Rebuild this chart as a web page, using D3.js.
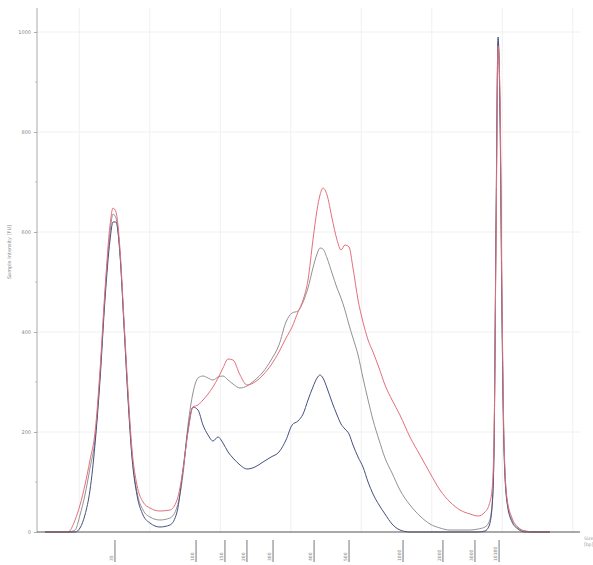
<!DOCTYPE html>
<html>
<head>
<meta charset="utf-8">
<script src="https://cdn.jsdelivr.net/npm/d3@7"></script>
<style>
  html, body { margin: 0; padding: 0; background: #fff; }
  svg { display: block; }
</style>
</head>
<body>
<svg id="chart" width="593" height="565"></svg>
<script>
// ---- data (migration time in seconds, intensity in FU) ----
const time = [17.57, 18.63, 19.20, 19.70, 20.05, 20.40, 20.76, 21.11, 21.47, 21.82, 22.18, 22.39, 22.60, 22.89, 23.17, 23.45, 23.74, 24.09, 24.52, 25.01, 25.72, 26.43, 26.93, 27.35, 27.71, 28.06, 28.42, 28.77, 29.13, 29.48, 29.84, 30.19, 30.55, 30.90, 31.40, 31.89, 32.46, 33.03, 33.60, 34.16, 34.66, 35.09, 35.51, 35.87, 36.22, 36.57, 36.86, 37.07, 37.28, 37.57, 37.92, 38.28, 38.56, 38.84, 39.13, 39.41, 39.77, 40.12, 40.48, 40.83, 41.26, 41.68, 42.18, 42.74, 43.45, 44.16, 44.87, 45.58, 46.29, 47.00, 47.71, 48.28, 48.77, 49.06, 49.27, 49.41, 49.55, 49.70, 49.84, 49.98, 50.12, 50.33, 50.69, 51.11, 51.61, 52.32, 53.38];

const sampleRed = [0, 0, 0, 24, 54, 94, 144, 198, 324, 484, 614, 648, 640, 564, 424, 284, 164, 94, 60, 48, 42, 44, 64, 124, 200, 250, 254, 264, 276, 290, 308, 328, 346, 344, 314, 294, 300, 314, 334, 360, 388, 410, 440, 464, 504, 584, 644, 674, 688, 674, 628, 584, 564, 574, 570, 528, 464, 420, 384, 360, 328, 294, 264, 234, 190, 154, 118, 84, 60, 44, 36, 32, 40, 54, 84, 184, 564, 972, 864, 464, 184, 68, 28, 10, 2, 0, 0];

const sampleGray = [0, 0, 0, 4, 34, 74, 128, 184, 314, 474, 600, 636, 628, 554, 414, 274, 154, 80, 44, 30, 24, 28, 50, 114, 214, 278, 308, 312, 308, 304, 310, 312, 304, 296, 288, 292, 304, 320, 344, 374, 420, 438, 442, 460, 488, 528, 556, 568, 566, 548, 518, 488, 468, 444, 414, 388, 354, 308, 264, 224, 184, 148, 118, 84, 54, 32, 16, 8, 4, 4, 4, 6, 10, 20, 54, 164, 584, 980, 844, 444, 174, 64, 24, 8, 2, 0, 0];

const sampleBlue = [0, 0, 0, 0, 8, 34, 84, 174, 304, 464, 584, 620, 620, 554, 414, 268, 148, 74, 34, 18, 10, 14, 40, 124, 204, 250, 244, 214, 194, 182, 190, 178, 160, 148, 134, 126, 130, 140, 150, 160, 184, 214, 222, 236, 264, 290, 308, 314, 308, 288, 260, 234, 216, 206, 196, 174, 150, 130, 100, 76, 54, 36, 16, 4, 0, 0, 0, 0, 0, 0, 0, 0, 2, 12, 48, 154, 604, 990, 824, 424, 164, 60, 20, 6, 0, 0, 0];

const seriesNames = ["Sample 1", "Sample 2", "Sample 3"];
const seriesColors = ["#e2707c", "#929292", "#46507e"];

const yTicks = [0, 200, 400, 600, 800, 1000];
const yMinorTicks = [100, 300, 500, 700, 900];
const gridTimes = [20, 25, 30, 35, 40, 45, 50, 55];

const peakTimes = [22.53, 28.28, 30.33, 31.89, 33.74, 36.65, 39.13, 42.96, 45.79, 48.06, 49.77];
const peakLabels = ["35", "100", "150", "200", "300", "400", "500", "1000", "2000", "3000", "10380"];

const yTitle = "Sample Intensity [FU]";
const xTitleLines = ["Size", "[bp]"];

// ---- drawing ----
const svg = d3.select("#chart");
const x = d3.scaleLinear().domain([17, 55.51]).range([37, 580]);
const y = d3.scaleLinear().domain([0, 1048]).range([532, 8]);

// grid
const grid = svg.append("g");
grid.selectAll("line.v").data(gridTimes).join("line")
  .attr("x1", d => x(d)).attr("x2", d => x(d))
  .attr("y1", y(1048)).attr("y2", y(0))
  .attr("stroke", "#f0f0f0").attr("stroke-width", 1);
grid.selectAll("line.h").data(yTicks.filter(d => d > 0)).join("line")
  .attr("x1", x(17)).attr("x2", x(55.51))
  .attr("y1", d => y(d)).attr("y2", d => y(d))
  .attr("stroke", "#f0f0f0").attr("stroke-width", 1);

// traces
const line = d3.line().x((d, i) => x(time[i])).y(d => y(d)).curve(d3.curveMonotoneX);
const seriesData = [sampleGray, sampleBlue, sampleRed];
const seriesCol = [seriesColors[1], seriesColors[2], seriesColors[0]];
svg.append("g").selectAll("path").data(seriesData).join("path")
  .attr("d", d => line(d))
  .attr("fill", "none")
  .attr("stroke", (d, i) => seriesCol[i])
  .attr("stroke-width", 1)
  .attr("stroke-linejoin", "round");

// y axis
const yAxis = d3.axisLeft(y).tickValues(yTicks).tickSize(3).tickPadding(3)
  .tickFormat(d3.format("d"));
const ya = svg.append("g").attr("transform", `translate(${x(17)},0)`).call(yAxis);
ya.select(".domain").attr("stroke", "#aaa").attr("d", `M0,${y(1048)}V${y(0)}`);
ya.selectAll(".tick line").attr("stroke", "#aaa");
ya.selectAll(".tick text").attr("fill", "#888").style("font-size", "5px")
  .style("font-family", "DejaVu Sans, sans-serif");
ya.selectAll("line.minor").data(yMinorTicks).join("line").attr("class", "minor")
  .attr("x1", -2).attr("x2", 0).attr("y1", d => y(d)).attr("y2", d => y(d))
  .attr("stroke", "#bbb");

svg.append("text")
  .attr("transform", `translate(11,${y(560)}) rotate(-90)`)
  .attr("text-anchor", "middle")
  .attr("fill", "#888")
  .style("font-size", "5px")
  .style("font-family", "DejaVu Sans, sans-serif")
  .text(yTitle);

// x axis baseline
svg.append("line")
  .attr("x1", x(17)).attr("x2", x(55.51))
  .attr("y1", y(0)).attr("y2", y(0))
  .attr("stroke", "#555").attr("stroke-width", 1.2);

// peak size markers
const pk = svg.append("g").selectAll("g").data(peakTimes).join("g")
  .attr("transform", d => `translate(${x(d)},0)`);
pk.append("line").attr("x1", 0).attr("x2", 0).attr("y1", 540).attr("y2", 562)
  .attr("stroke", "#777").attr("stroke-width", 1);
pk.append("text")
  .attr("transform", "translate(-2,561) rotate(-90)")
  .attr("text-anchor", "start")
  .attr("fill", "#888")
  .style("font-size", "4.5px")
  .style("font-family", "DejaVu Sans, sans-serif")
  .text((d, i) => peakLabels[i]);

// x axis title (right end)
svg.append("g").selectAll("text").data(xTitleLines).join("text")
  .attr("x", 584).attr("y", (d, i) => 540 + i * 6)
  .attr("fill", "#999")
  .style("font-size", "4.5px")
  .style("font-family", "DejaVu Sans, sans-serif")
  .text(d => d);
</script>
</body>
</html>
